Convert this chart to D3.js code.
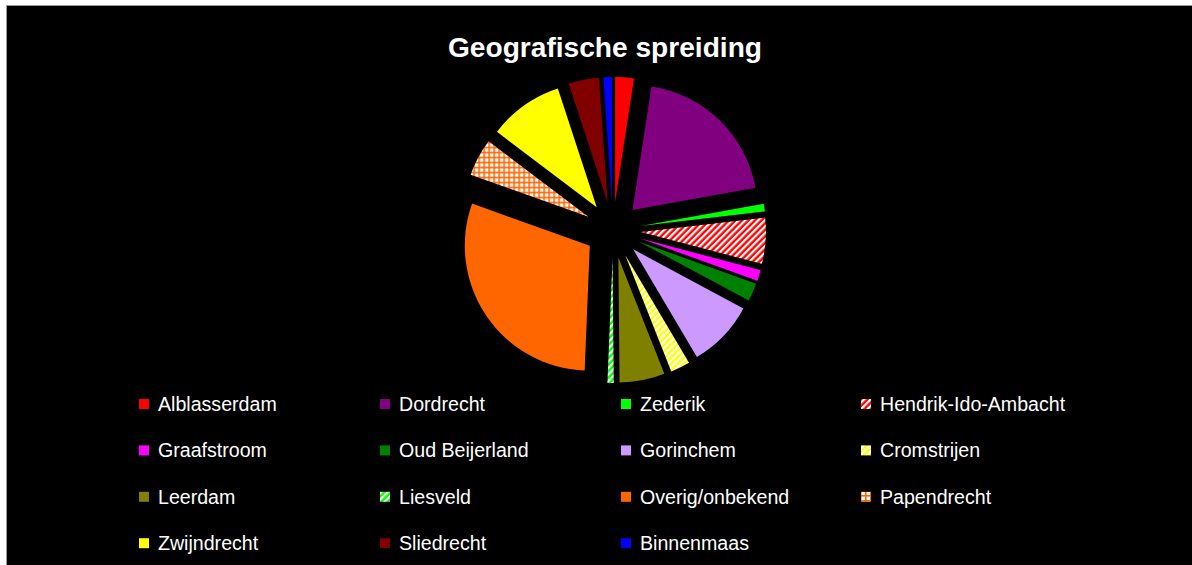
<!DOCTYPE html>
<html>
<head>
<meta charset="utf-8">
<script src="https://cdn.jsdelivr.net/npm/d3@7"></script>
<style>
html,body{margin:0;padding:0;background:#fff;}
svg{display:block;}
</style>
</head>
<body>
<svg id="chart" width="1192" height="565"></svg>
<script>
const categories = ["Alblasserdam","Dordrecht","Zederik","Hendrik-Ido-Ambacht","Graafstroom","Oud Beijerland","Gorinchem","Cromstrijen","Leerdam","Liesveld","Overig/onbekend","Papendrecht","Zwijndrecht","Sliedrecht","Binnenmaas"];
const values = [2.4, 19.6, 1.0, 5.9, 1.4, 2.3, 8.6, 2.5, 5.8, 0.8, 29.6, 4.8, 9.6, 3.9, 1.1];
const colors = ["#FF0000","#800080","#00FF00","#FF0000","#FF00FF","#008000","#CC99FF","#FFFF00","#808000","#00FF00","#FF6600","#FF6600","#FFFF00","#800000","#0000FF"];
const fills = ["solid","solid","solid","stripe","solid","solid","solid","stripe","solid","stripe","solid","grid","solid","solid","solid"];
const title = "Geografische spreiding";

const svg = d3.select("#chart");
const defs = svg.append("defs");

categories.forEach((c,i)=>{
  if(fills[i]==="stripe"){
    const p = defs.append("pattern").attr("id","pat"+i).attr("patternUnits","userSpaceOnUse")
      .attr("width",4.6).attr("height",6).attr("patternTransform","rotate(45)");
    p.append("rect").attr("width",4.6).attr("height",6).attr("fill",colors[i]);
    p.append("rect").attr("width",2.2).attr("height",6).attr("fill","#fff");
  } else if(fills[i]==="grid"){
    const p = defs.append("pattern").attr("id","pat"+i).attr("patternUnits","userSpaceOnUse")
      .attr("width",5).attr("height",5);
    p.append("rect").attr("width",5).attr("height",5).attr("fill","#fff");
    p.append("rect").attr("width",5).attr("height",1.6).attr("fill",colors[i]);
    p.append("rect").attr("width",1.6).attr("height",5).attr("fill",colors[i]);
  }
});
const fillOf = i => fills[i]==="solid" ? colors[i] : `url(#pat${i})`;

// background frame
svg.append("rect").attr("x",6.5).attr("y",5.5).attr("width",1200).attr("height",600)
  .attr("fill","#000").attr("stroke","#9a9a9a").attr("stroke-width",1);

svg.append("text").attr("x",605).attr("y",57).attr("text-anchor","middle")
  .attr("fill","#fff").attr("font-family","'Liberation Sans', Arial, sans-serif")
  .attr("font-weight","bold").attr("font-size",28).attr("textLength",314)
  .attr("lengthAdjust","spacingAndGlyphs").text(title);

const cx = 613, cy = 230, r = 125, explode = 28;
const pie = d3.pie().sort(null).value(d=>d).startAngle(0).endAngle(2*Math.PI);
const arc = d3.arc().innerRadius(0).outerRadius(r);
const arcs = pie(values);
const g = svg.append("g").attr("transform",`translate(${cx},${cy})`);
g.selectAll("path").data(arcs).enter().append("path")
  .attr("d",arc)
  .attr("fill",(d,i)=>fillOf(i))
  .attr("transform",d=>{
    const a=(d.startAngle+d.endAngle)/2;
    return `translate(${explode*Math.sin(a)},${-explode*Math.cos(a)})`;
  });

// legend
const colX = [139,380,621,861];
const lg = svg.append("g");
categories.forEach((c,i)=>{
  const col = i%4, row = Math.floor(i/4);
  const x = colX[col], y = 399 + row*46.4;
  lg.append("rect").attr("x",x).attr("y",y).attr("width",10).attr("height",10).attr("fill",fillOf(i));
  lg.append("text").attr("x",x+19).attr("y",y+12).attr("fill","#fff")
    .attr("font-family","'Liberation Sans', Arial, sans-serif").attr("font-size",19.6).text(c);
});
</script>
</body>
</html>
